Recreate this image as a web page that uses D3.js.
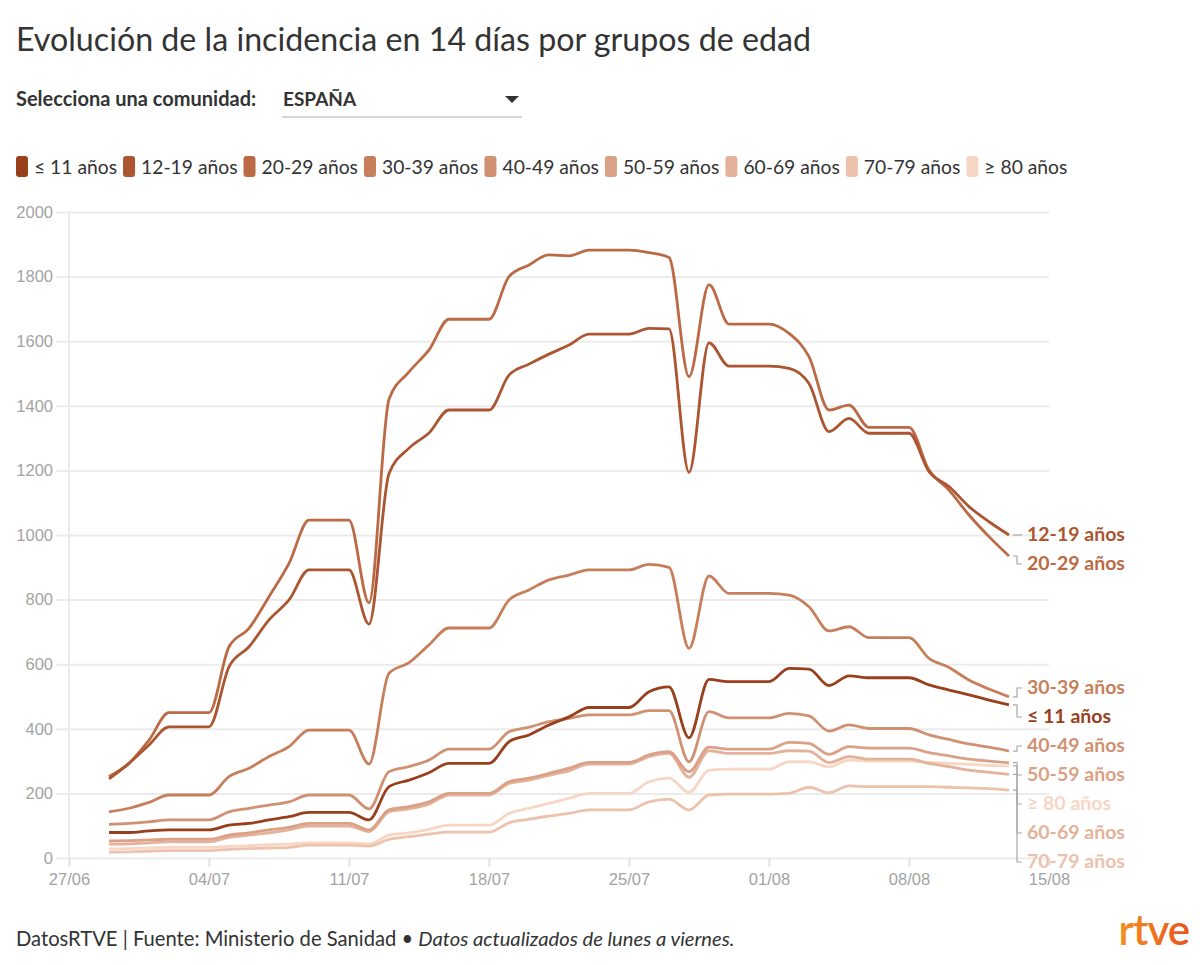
<!DOCTYPE html>
<html>
<head>
<meta charset="utf-8">
<script src="https://cdn.jsdelivr.net/npm/d3@7"></script>
<style>
  body { margin: 0; background: #fff; }
  svg { display: block; font-family: "Source Sans Pro", Lato, "Noto Sans", sans-serif; }
</style>
</head>
<body>
<svg id="chart" width="1200" height="965"></svg>
<script>
// dias con dato (29/06 - 13/08)
const dates = [
  "2021-06-29","2021-06-30","2021-07-01","2021-07-02","2021-07-03","2021-07-04","2021-07-05",
  "2021-07-06","2021-07-07","2021-07-08","2021-07-09","2021-07-10","2021-07-11","2021-07-12",
  "2021-07-13","2021-07-14","2021-07-15","2021-07-16","2021-07-17","2021-07-18","2021-07-19",
  "2021-07-20","2021-07-21","2021-07-22","2021-07-23","2021-07-24","2021-07-25","2021-07-26",
  "2021-07-27","2021-07-28","2021-07-29","2021-07-30","2021-07-31","2021-08-01","2021-08-02",
  "2021-08-03","2021-08-04","2021-08-05","2021-08-06","2021-08-07","2021-08-08","2021-08-09",
  "2021-08-10","2021-08-11","2021-08-12","2021-08-13"
];

const groups = ["≤ 11 años", "12-19 años", "20-29 años", "30-39 años", "40-49 años",
                "50-59 años", "60-69 años", "70-79 años", "≥ 80 años"];
const colors = ["#983f1c", "#ab5531", "#bb6a45", "#c77f5b", "#d09172",
                "#daa186", "#e4b29a", "#edc2ac", "#f8d6c5"];

const inc0_11 = [79,79,84,87,87,87,102,107,118,128,141,141,141,118,221,241,264,293,293,293,360,381,412,437,466,466,466,515,530,372,553,546,546,546,587,585,534,564,558,558,558,536,520,505,489,474];
const inc12_19 = [245,293,350,406,406,406,592,654,737,799,892,892,892,724,1190,1269,1316,1387,1387,1387,1495,1529,1560,1588,1622,1622,1622,1640,1638,1194,1595,1523,1523,1523,1516,1469,1320,1361,1315,1315,1315,1196,1150,1088,1041,1000];
const inc20_29 = [252,293,365,450,450,450,654,711,809,912,1046,1046,1046,790,1420,1505,1573,1668,1668,1668,1800,1836,1867,1864,1882,1882,1882,1874,1859,1490,1775,1653,1653,1653,1624,1552,1387,1402,1333,1333,1333,1201,1139,1062,995,935];
const inc30_39 = [143,154,172,195,195,195,252,278,314,345,396,396,396,291,572,605,660,712,712,712,799,830,861,876,892,892,892,909,900,649,873,819,819,819,814,778,703,716,682,682,682,618,590,551,523,499];
const inc40_49 = [104,107,112,118,118,118,143,154,164,174,195,195,195,152,267,283,303,337,337,337,391,405,422,432,443,443,443,456,456,298,453,434,434,434,448,440,393,412,401,401,401,381,367,353,343,331];
const inc50_59 = [53,54,56,58,58,58,71,78,87,95,107,107,107,87,149,159,174,200,200,200,236,247,262,278,296,296,296,319,329,267,343,337,337,337,358,355,321,345,340,340,340,326,316,306,300,295];
const inc60_69 = [43,44,47,50,50,50,64,71,78,87,99,99,99,82,143,152,167,195,195,195,231,241,256,270,291,291,291,314,324,250,332,324,324,324,332,331,295,314,306,306,306,293,283,272,265,259];
const inc70_79 = [18,19,21,23,23,23,27,29,31,33,40,40,40,37,58,66,74,80,80,80,109,120,130,138,149,149,149,174,182,149,195,198,198,198,200,219,202,223,221,221,221,221,219,217,215,210];
const inc80 = [28,29,31,33,33,33,36,38,41,43,47,47,47,43,71,78,89,102,102,102,138,154,169,185,200,200,200,236,247,203,272,275,275,275,298,298,282,303,300,300,300,296,293,290,287,285];

const seriesValues = [inc0_11, inc12_19, inc20_29, inc30_39, inc40_49, inc50_59, inc60_69, inc70_79, inc80];

const yTicks = [0, 200, 400, 600, 800, 1000, 1200, 1400, 1600, 1800, 2000];
const xTickDates = ["2021-06-27","2021-07-04","2021-07-11","2021-07-18","2021-07-25","2021-08-01","2021-08-08","2021-08-15"];

const parse = d3.timeParse("%Y-%m-%d");
const fmt = d3.timeFormat("%d/%m");

const svg = d3.select("#chart");
const ink = "#333";

// cabecera
svg.append("text")
    .attr("x", 16).attr("y", 51)
    .attr("font-size", 32.2)
    .attr("fill", ink)
    .text("Evolución de la incidencia en 14 días por grupos de edad");

svg.append("text")
    .attr("x", 16).attr("y", 106)
    .attr("font-size", 20).attr("font-weight", 700)
    .attr("fill", ink)
    .text("Selecciona una comunidad:");

svg.append("text")
    .attr("x", 283).attr("y", 106)
    .attr("font-size", 19).attr("font-weight", 700)
    .attr("fill", ink)
    .text("ESPAÑA");

svg.append("line")
    .attr("x1", 282).attr("x2", 522)
    .attr("y1", 117).attr("y2", 117)
    .attr("stroke", "#c8c8c8").attr("stroke-width", 1.5);

svg.append("path")
    .attr("d", "M505,96 L519,96 L512,103 Z")
    .attr("fill", ink);

// leyenda
let lx = 16;
groups.forEach((g, i) => {
    svg.append("rect")
        .attr("x", lx).attr("y", 156)
        .attr("width", 12).attr("height", 21)
        .attr("rx", 3)
        .attr("fill", colors[i]);
    const t = svg.append("text")
        .attr("x", lx + 18).attr("y", 174)
        .attr("font-size", 19.3)
        .attr("fill", ink)
        .text(g);
    lx += 18 + t.node().getComputedTextLength() + 6;
});

// escalas
const x = d3.scaleTime()
    .domain([parse(xTickDates[0]), parse(xTickDates[xTickDates.length - 1])])
    .range([69, 1049]);

const y = d3.scaleLinear()
    .domain([0, 2000])
    .range([858, 212]);

// rejilla y ejes
const yAxis = svg.append("g")
    .attr("transform", "translate(69,0)")
    .call(d3.axisLeft(y).tickValues(yTicks).tickFormat(d3.format("d"))
        .tickSize(-980).tickPadding(16).tickSizeOuter(0));
yAxis.select(".domain").remove();
yAxis.selectAll(".tick line")
    .attr("x1", -13)
    .attr("stroke", "#ebebeb").attr("stroke-width", 2);
yAxis.selectAll(".tick text")
    .attr("font-size", 16.5).attr("fill", "#a3a3a3")
    .attr("font-family", null);

svg.append("line")
    .attr("x1", 69).attr("x2", 69)
    .attr("y1", 212).attr("y2", 858)
    .attr("stroke", "#ebebeb").attr("stroke-width", 2);

const xAxis = svg.append("g")
    .attr("transform", "translate(0,858)")
    .call(d3.axisBottom(x)
        .tickValues(xTickDates.map(parse))
        .tickFormat(fmt)
        .tickSize(8).tickPadding(7).tickSizeOuter(0));
xAxis.select(".domain").remove();
xAxis.selectAll(".tick line").attr("stroke", "#e2e2e2").attr("stroke-width", 2);
xAxis.selectAll(".tick text")
    .attr("font-size", 16.5).attr("fill", "#a3a3a3")
    .attr("font-family", null);

// lineas
const line = d3.line()
    .x((d, i) => x(parse(dates[i])))
    .y(d => y(d))
    .curve(d3.curveMonotoneX);

const order = d3.range(groups.length).reverse();
svg.append("g")
    .selectAll("path")
    .data(order)
    .join("path")
    .attr("d", i => line(seriesValues[i]))
    .attr("fill", "none")
    .attr("stroke", i => colors[i])
    .attr("stroke-width", 2.8)
    .attr("stroke-linejoin", "round");

// etiquetas finales
const lastX = x(parse(dates[dates.length - 1]));
const labels = groups.map((g, i) => ({
    i: i,
    name: g,
    y0: y(seriesValues[i][seriesValues[i].length - 1])
})).sort((a, b) => a.y0 - b.y0);

const gap = 29;
labels.forEach((d, k) => {
    d.y = k === 0 ? d.y0 : Math.max(d.y0, labels[k - 1].y + gap);
});
const bottom = y(0) + 4;
for (let k = labels.length - 1; k >= 0; k--) {
    const lim = k === labels.length - 1 ? bottom : labels[k + 1].y - gap;
    labels[k].y = Math.min(labels[k].y, lim);
}

const lab = svg.append("g");
lab.selectAll("path")
    .data(labels)
    .join("path")
    .attr("d", d => `M${lastX + 4},${d.y0}H${lastX + 8}V${d.y}H${lastX + 13}`)
    .attr("fill", "none")
    .attr("stroke", "#a8a8a8")
    .attr("stroke-width", 1.2);

lab.selectAll("text")
    .data(labels)
    .join("text")
    .attr("x", lastX + 18)
    .attr("y", d => d.y + 6)
    .attr("font-size", 19.5).attr("font-weight", 700)
    .attr("fill", d => colors[d.i])
    .text(d => d.name);

// pie
const foot = svg.append("text")
    .attr("x", 16).attr("y", 946)
    .attr("font-size", 20.2)
    .attr("fill", ink);
foot.append("tspan").text("DatosRTVE | Fuente: Ministerio de Sanidad • ");
foot.append("tspan").attr("font-style", "italic").text("Datos actualizados de lunes a viernes.");

const grad = svg.append("defs").append("linearGradient")
    .attr("id", "logo").attr("x1", 0).attr("x2", 1);
grad.append("stop").attr("offset", "0%").attr("stop-color", "#f39020");
grad.append("stop").attr("offset", "100%").attr("stop-color", "#e9541f");

svg.append("text")
    .attr("x", 1189).attr("y", 945)
    .attr("text-anchor", "end")
    .attr("font-size", 42).attr("font-weight", 600)
    .attr("letter-spacing", -1)
    .attr("fill", "url(#logo)")
    .text("rtve");
</script>
</body>
</html>
